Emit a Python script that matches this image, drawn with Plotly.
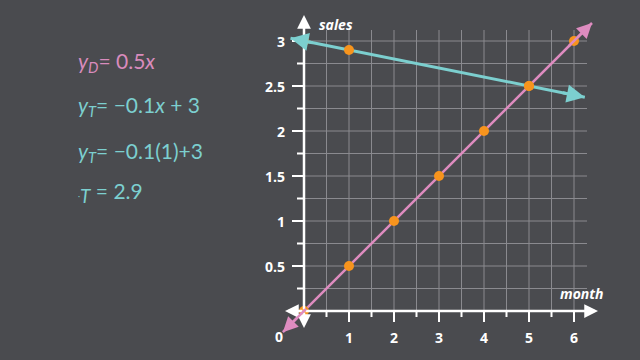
import plotly.graph_objects as go

# ---- data ----
months_D = [0, 1, 2, 3, 4, 5, 6]
sales_D = [0, 0.5, 1, 1.5, 2, 2.5, 3]
months_T = [0, 1, 5]
sales_T = [3, 2.9, 2.5]
line_D_x = [-0.47, 6.4]
line_D_y = [-0.235, 3.2]
line_T_x = [-0.3, 6.24]
line_T_y = [3.03, 2.376]
x_tick_vals = [1, 2, 3, 4, 5, 6]
x_tick_text = ["1", "2", "3", "4", "5", "6"]
y_tick_vals = [0.5, 1, 1.5, 2, 2.5, 3]
y_tick_text = ["0.5", "1", "1.5", "2", "2.5", "3"]
equations = [
    ("<i>y</i><sub><i>D</i></sub>= 0.5<i>x</i>", "#d98bbd", 62),
    ("<i>y</i><sub><i>T</i></sub>= \u22120.1<i>x</i> + 3", "#7ccfcf", 106),
    ("<i>y</i><sub><i>T</i></sub>= \u22120.1(1)+3", "#7ccfcf", 152),
    ("<span style='font-size:8px'>\u00b7</span><sub><span style='font-size:19px'><i>T</i></span></sub> = 2.9", "#7ccfcf", 192),
]

BG = "#4a4b4f"
GRID = "#8a8a8f"
TEAL = "#7ccfcf"
PINK = "#de8cc0"
ORANGE = "#f7941d"
W, H = 640, 360
X0PX, XS = 304, 45.0   # pixel of x=0, px per unit
Y0PX, YS = 311, 90.0   # pixel of y=0, px per unit

def px_x(p):
    return (p - X0PX) / XS

def px_y(p):
    return (Y0PX - p) / YS

fig = go.Figure()
shapes = []
annotations = []

# grid
gx_top = px_y(30)
gx_right = px_x(587)
gv = 0.5
while gv <= 6.0001:
    shapes.append(dict(type="line", x0=gv, x1=gv, y0=0, y1=gx_top, xref="x", yref="y",
                       line=dict(color=GRID, width=1), layer="below"))
    gv += 0.5
gh = 0.25
while gh <= 3.0001:
    shapes.append(dict(type="line", x0=0, x1=gx_right, y0=gh, y1=gh, xref="x", yref="y",
                       line=dict(color=GRID, width=1), layer="below"))
    gh += 0.25

# ticks
maj_x = 11 / YS
min_x = 6 / YS
k = 0.5
while k <= 6.0001:
    L = maj_x if abs(k - round(k)) < 1e-6 else min_x
    shapes.append(dict(type="line", x0=k, x1=k, y0=0, y1=-L, xref="x", yref="y",
                       line=dict(color="white", width=2)))
    k += 0.5
maj_y = 12 / XS
min_y = 7 / XS
k = 0.25
while k <= 3.0001:
    L = maj_y if abs(k * 2 - round(k * 2)) < 1e-6 else min_y
    shapes.append(dict(type="line", x0=0, x1=-L, y0=k, y1=k, xref="x", yref="y",
                       line=dict(color="white", width=2)))
    k += 0.25

# axes with arrows (annotation arrows)
def arrow(x, y, ax, ay, color, width, size=1.0):
    annotations.append(dict(x=x, y=y, ax=ax, ay=ay, xref="x", yref="y", axref="x", ayref="y",
                            showarrow=True, arrowhead=2, arrowsize=size, arrowwidth=width,
                            arrowcolor=color, text=""))

arrow(px_x(598), 0, 0, 0, "white", 2.5, 1.1)
arrow(px_x(285), 0, 0, 0, "white", 2.5, 1.1)
arrow(0, px_y(15), 0, 0, "white", 2.5, 1.1)
arrow(0, px_y(328), 0, 0, "white", 2.5, 1.1)

# lines
fig.add_trace(go.Scatter(x=line_T_x, y=line_T_y, mode="lines",
                         line=dict(color=TEAL, width=3), hoverinfo="skip"))
fig.add_trace(go.Scatter(x=line_D_x, y=line_D_y, mode="lines",
                         line=dict(color=PINK, width=2.5), hoverinfo="skip"))

def end_arrow(xs, ys, color, width):
    dx = xs[1] - xs[0]
    dy = ys[1] - ys[0]
    f = 0.08
    arrow(xs[1], ys[1], xs[1] - dx * f, ys[1] - dy * f, color, width, 1.2)
    arrow(xs[0], ys[0], xs[0] + dx * f, ys[0] + dy * f, color, width, 1.2)

end_arrow(line_T_x, line_T_y, TEAL, 3)
end_arrow(line_D_x, line_D_y, PINK, 2.5)

fig.add_trace(go.Scatter(x=months_D, y=sales_D, mode="markers",
                         marker=dict(color=ORANGE, size=10), hoverinfo="skip", cliponaxis=False))
fig.add_trace(go.Scatter(x=months_T, y=sales_T, mode="markers",
                         marker=dict(color=ORANGE, size=10), hoverinfo="skip", cliponaxis=False))

# tick labels
lab_font = dict(family="Open Sans", size=14, color="white")
for v, t in zip(x_tick_vals, x_tick_text):
    annotations.append(dict(x=v, y=px_y(337), xref="x", yref="y", text="<b>%s</b>" % t,
                            showarrow=False, font=lab_font, xanchor="center", yanchor="middle"))
for v, t in zip(y_tick_vals, y_tick_text):
    annotations.append(dict(x=px_x(287), y=v, xref="x", yref="y", text="<b>%s</b>" % t,
                            showarrow=False, font=lab_font, xanchor="right", yanchor="middle"))
annotations.append(dict(x=px_x(279), y=px_y(336), xref="x", yref="y", text="<b>0</b>",
                        showarrow=False, font=lab_font, xanchor="center", yanchor="middle"))
annotations.append(dict(x=px_x(317), y=px_y(24), xref="x", yref="y", text="<b><i>sales</i></b>",
                        showarrow=False, font=lab_font, xanchor="left", yanchor="middle"))
annotations.append(dict(x=px_x(606), y=px_y(293), xref="x", yref="y", text="<b><i>month</i></b>",
                        showarrow=False, font=lab_font, xanchor="right", yanchor="middle"))

# equations
for txt, col, ypx in equations:
    annotations.append(dict(x=76 / W, y=1 - ypx / H, xref="paper", yref="paper", text=txt,
                            showarrow=False, xanchor="left", yanchor="middle",
                            font=dict(family="Lato", size=21, color=col)))

fig.update_layout(
    width=W, height=H,
    margin=dict(l=0, r=0, t=0, b=0),
    paper_bgcolor=BG, plot_bgcolor=BG,
    showlegend=False,
    xaxis=dict(range=[px_x(0), px_x(W)], visible=False, fixedrange=True),
    yaxis=dict(range=[px_y(H), px_y(0)], visible=False, fixedrange=True),
    shapes=shapes,
    annotations=annotations,
)

fig.write_html("out.html", config={"displayModeBar": False},
               post_script="document.body.style.margin='0';document.body.style.background='%s';" % BG)
